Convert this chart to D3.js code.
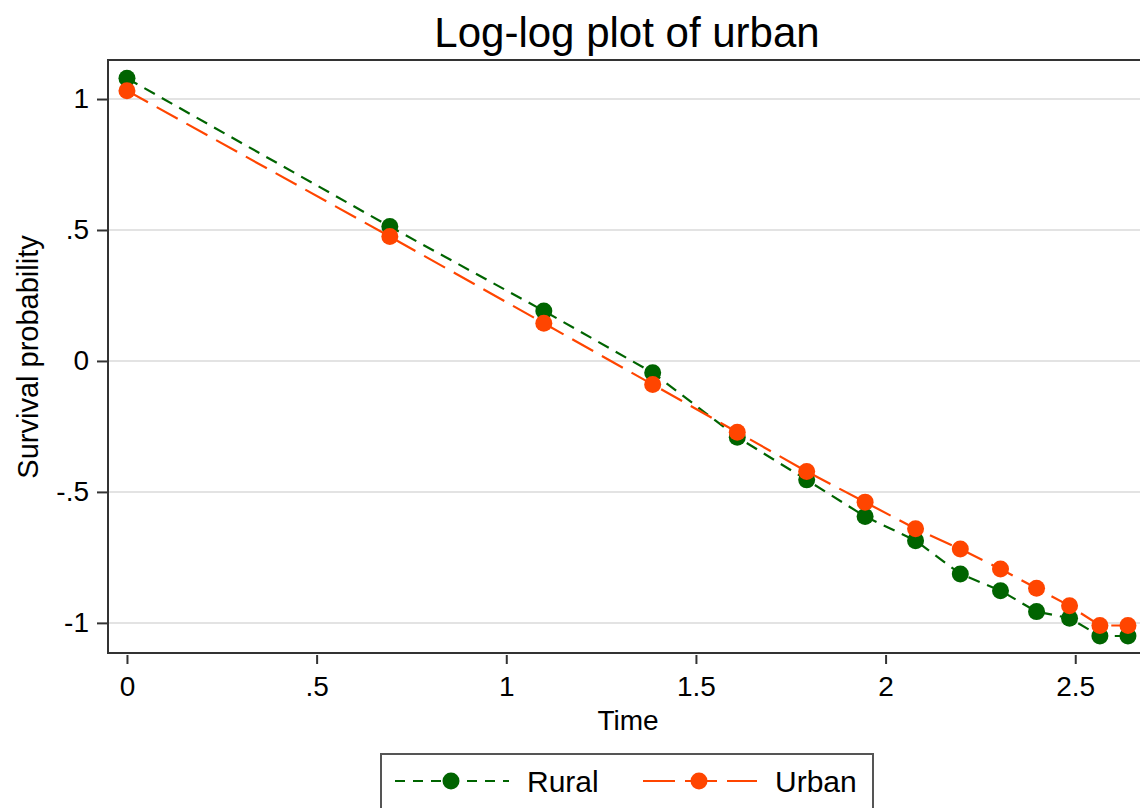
<!DOCTYPE html>
<html>
<head>
<meta charset="utf-8">
<script src="https://cdn.jsdelivr.net/npm/d3@7"></script>
<style>
  body { margin: 0; background: #fff; }
  text { font-family: "Liberation Sans", Arial, sans-serif; fill: #000; }
</style>
</head>
<body>
<div id="vis_container"></div>
<script>
// time is on the log scale: ln(1) .. ln(14)
var times = [0, 0.693, 1.099, 1.386, 1.609, 1.792, 1.946, 2.079, 2.197, 2.303, 2.398, 2.485, 2.565, 2.639];
var rural = [1.079, 0.513, 0.191, -0.045, -0.291, -0.454, -0.594, -0.686, -0.813, -0.877, -0.957, -0.982, -1.050, -1.050];
var urban = [1.032, 0.475, 0.144, -0.090, -0.272, -0.422, -0.539, -0.641, -0.718, -0.794, -0.868, -0.935, -1.010, -1.010];
var xTicks = [0, 0.5, 1, 1.5, 2, 2.5];
var yTicks = [-1, -0.5, 0, 0.5, 1];
var seriesNames = ["Rural", "Urban"];

var chart = {};
chart.width = 1140;
chart.height = 808;
chart.margin = {"top": 60, "left": 108, "right": -2, "bottom": 155};

var fmt = function(v) {
	var s = String(v);
	return s.replace(/^0\./, ".").replace(/^-0\./, "-.");
};

chart.svg = d3.select("#vis_container").append("svg")
	.attr("width", chart.width)
	.attr("height", chart.height);

chart.x = d3.scaleLinear()
	.domain([-0.05, 2.676])
	.range([chart.margin.left, chart.width - chart.margin.right]);
chart.y = d3.scaleLinear()
	.domain([-1.115, 1.149])
	.range([chart.height - chart.margin.bottom, chart.margin.top]);

// grid lines
chart.svg.selectAll("line.grid")
	.data(yTicks)
	.enter().append("line")
	.attr("class", "grid")
	.attr("x1", chart.margin.left)
	.attr("x2", chart.width)
	.attr("y1", function(d) { return chart.y(d); })
	.attr("y2", function(d) { return chart.y(d); })
	.attr("stroke", "#e3e3e3")
	.attr("stroke-width", 2);

// frame
var plotTop = chart.margin.top, plotBottom = chart.height - chart.margin.bottom;
chart.svg.append("path")
	.attr("d", "M" + (chart.width + 2) + "," + plotTop + "H" + chart.margin.left + "V" + plotBottom + "H" + (chart.width + 2))
	.attr("fill", "none")
	.attr("stroke", "#333")
	.attr("stroke-width", 2);

// axes
var yAxis = d3.axisLeft(chart.y).tickValues(yTicks).tickSize(11).tickPadding(8).tickFormat(fmt);
var gy = chart.svg.append("g")
	.attr("transform", "translate(" + chart.margin.left + ",0)")
	.call(yAxis);
var xAxis = d3.axisBottom(chart.x).tickValues(xTicks).tickSize(10).tickPadding(12).tickFormat(fmt);
var gx = chart.svg.append("g")
	.attr("transform", "translate(0," + (plotBottom + 1) + ")")
	.call(xAxis);
[gx, gy].forEach(function(g) {
	g.select(".domain").remove();
	g.selectAll(".tick line").attr("stroke", "#333").attr("stroke-width", 2);
	g.selectAll(".tick text").style("font-size", "28px").style("font-family", "Liberation Sans, Arial, sans-serif");
});
gx.selectAll(".tick line").attr("y1", 1);

// lines and markers
var colors = ["#006400", "#ff4500"];
var dashes = ["12,8", "24,10"];
var allSeries = [rural, urban];
var line = d3.line()
	.x(function(d, i) { return chart.x(times[i]); })
	.y(function(d) { return chart.y(d); });

allSeries.forEach(function(vals, k) {
	chart.svg.append("path")
		.datum(vals)
		.attr("d", line)
		.attr("fill", "none")
		.attr("stroke", colors[k])
		.attr("stroke-width", 2.2)
		.attr("stroke-dasharray", dashes[k]);
	chart.svg.selectAll("circle.s" + k)
		.data(vals)
		.enter().append("circle")
		.attr("class", "s" + k)
		.attr("cx", function(d, i) { return chart.x(times[i]); })
		.attr("cy", function(d) { return chart.y(d); })
		.attr("r", 8.5)
		.attr("fill", colors[k]);
});

// titles
chart.svg.append("text")
	.attr("x", 627).attr("y", 47)
	.attr("text-anchor", "middle")
	.style("font-size", "42px")
	.text("Log-log plot of urban");
chart.svg.append("text")
	.attr("x", 628).attr("y", 730)
	.attr("text-anchor", "middle")
	.style("font-size", "28px")
	.text("Time");
chart.svg.append("text")
	.attr("transform", "translate(38,357) rotate(-90)")
	.attr("text-anchor", "middle")
	.style("font-size", "29px")
	.text("Survival probability");

// legend
var lg = chart.svg.append("g");
lg.append("rect")
	.attr("x", 381).attr("y", 754)
	.attr("width", 492).attr("height", 70)
	.attr("fill", "#fff")
	.attr("stroke", "#555")
	.attr("stroke-width", 2);
var legendX = [395, 643];
seriesNames.forEach(function(name, k) {
	var x0 = legendX[k];
	lg.append("line")
		.attr("x1", x0).attr("x2", x0 + 114)
		.attr("y1", 781).attr("y2", 781)
		.attr("stroke", colors[k])
		.attr("stroke-width", 2.2)
		.attr("stroke-dasharray", k === 0 ? "10,8" : "32,10");
	lg.append("circle")
		.attr("cx", x0 + 56).attr("cy", 781)
		.attr("r", 8.5)
		.attr("fill", colors[k]);
	lg.append("text")
		.attr("x", x0 + 132).attr("y", 792)
		.style("font-size", "30px")
		.text(name);
});
</script>
</body>
</html>
